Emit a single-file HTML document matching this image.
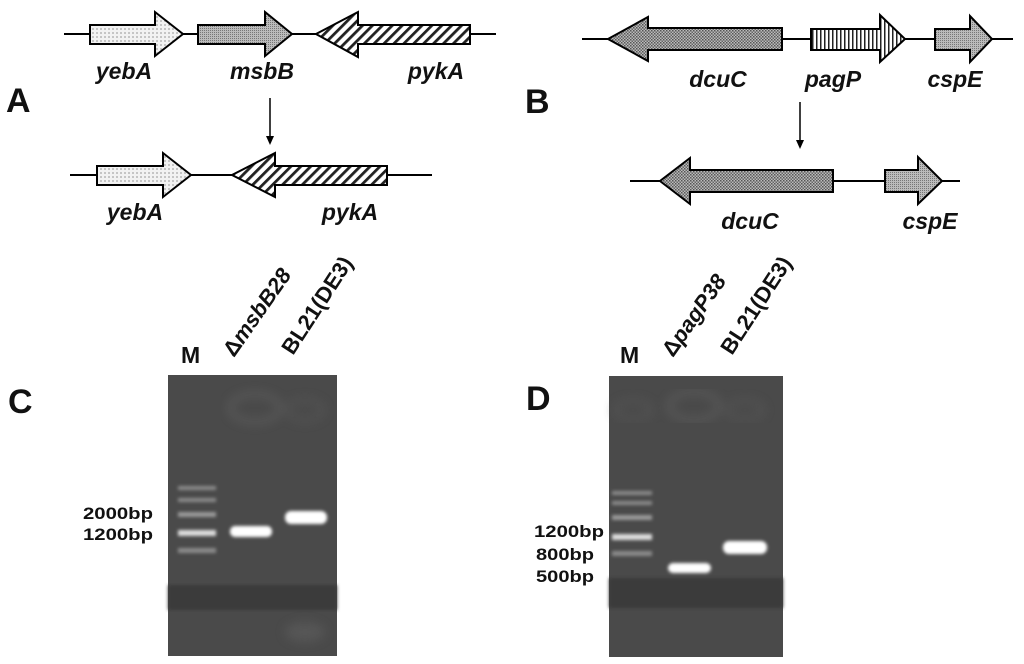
<!DOCTYPE html>
<html><head><style>
html,body{margin:0;padding:0;background:#fff;}
svg{display:block}
.g{font-family:"Liberation Sans",sans-serif;font-weight:bold;font-style:italic;font-size:23px;fill:#111;text-anchor:middle}
.L{font-family:"Liberation Sans",sans-serif;font-weight:bold;font-size:34px;fill:#111}
.t{font-family:"Liberation Sans",sans-serif;font-weight:bold;font-size:21px;fill:#111}
.bp{font-family:"Liberation Sans",sans-serif;font-weight:bold;font-size:17px;fill:#111}
</style></head><body>
<svg width="1024" height="664" viewBox="0 0 1024 664" xmlns="http://www.w3.org/2000/svg">
<defs>
<pattern id="dots" width="4" height="4" patternUnits="userSpaceOnUse"><rect width="4" height="4" fill="#f2f2f2"/><circle cx="1" cy="1" r="0.6" fill="#555"/></pattern>
<pattern id="gray" width="2" height="2" patternUnits="userSpaceOnUse"><rect width="2" height="2" fill="#bbb"/><rect width="1" height="1" fill="#777"/></pattern>
<pattern id="hatch" width="7" height="7" patternUnits="userSpaceOnUse" patternTransform="rotate(45)"><rect width="7" height="7" fill="#fff"/><rect width="2.8" height="7" fill="#222"/></pattern>
<pattern id="cross" width="3" height="3" patternUnits="userSpaceOnUse"><rect width="3" height="3" fill="#bbb"/><rect width="1.5" height="1.5" fill="#555"/><rect x="1.5" y="1.5" width="1.5" height="1.5" fill="#666"/></pattern>
<pattern id="vert" width="4" height="4" patternUnits="userSpaceOnUse"><rect width="4" height="4" fill="#fff"/><rect width="1.5" height="4" fill="#222"/></pattern>
<filter id="bl"><feGaussianBlur stdDeviation="1.5"/></filter>
<filter id="bl2"><feGaussianBlur stdDeviation="5"/></filter>
</defs>
<g stroke="#000" stroke-width="2">
<line x1="64" y1="34" x2="496" y2="34"/>
<polygon points="90,25 155,25 155,12 183,34 155,56 155,44 90,44" fill="url(#dots)"/>
<polygon points="198,25 265,25 265,12 292,34 265,56 265,44 198,44" fill="url(#gray)"/>
<polygon points="470,25 358,25 358,12 316,34 358,57 358,44 470,44" fill="url(#hatch)"/>
<line x1="70" y1="175" x2="432" y2="175"/>
<polygon points="97,166 163,166 163,153 191,175 163,197 163,185 97,185" fill="url(#dots)"/>
<polygon points="387,166 275,166 275,153 232,175 275,197 275,185 387,185" fill="url(#hatch)"/>
<line x1="582" y1="39" x2="1013" y2="39"/>
<polygon points="782,28 648,28 648,17 608,39 648,61 648,50 782,50" fill="url(#cross)"/>
<polygon points="811,29 880,29 880,15 905,39 880,62 880,50 811,50" fill="url(#vert)"/>
<polygon points="935,29 970,29 970,16 992,39 970,62 970,50 935,50" fill="url(#gray)"/>
<line x1="630" y1="181" x2="960" y2="181"/>
<polygon points="833,170 690,170 690,158 660,181 690,204 690,192 833,192" fill="url(#cross)"/>
<polygon points="885,170 918,170 918,157 942,181 918,204 918,192 885,192" fill="url(#gray)"/>
</g>
<g stroke="#000" stroke-width="1.5"><line x1="270" y1="98" x2="270" y2="138"/><line x1="800" y1="102" x2="800" y2="142"/></g>
<polygon points="266,136 274,136 270,145" fill="#000"/>
<polygon points="796,140 804,140 800,149" fill="#000"/>
<text class="g" x="124" y="79">yebA</text><text class="g" x="262" y="79">msbB</text><text class="g" x="436" y="79">pykA</text>
<text class="g" x="135" y="220">yebA</text><text class="g" x="350" y="220">pykA</text>
<text class="g" x="718" y="87">dcuC</text><text class="g" x="833" y="87">pagP</text><text class="g" x="955" y="87">cspE</text>
<text class="g" x="750" y="229">dcuC</text><text class="g" x="930" y="229">cspE</text>
<text class="L" x="6" y="112">A</text><text class="L" x="525" y="113">B</text>
<text class="L" x="8" y="413">C</text><text class="L" x="526" y="410">D</text>
<!-- Gel C -->
<rect x="168" y="375" width="169" height="281" fill="#4a4a4a"/>
<rect x="168" y="585" width="169" height="25" fill="#3a3a3a" filter="url(#bl)"/>
<g filter="url(#bl2)" opacity="0.7"><ellipse cx="255" cy="408" rx="25" ry="14" fill="none" stroke="#666" stroke-width="4"/><ellipse cx="305" cy="410" rx="18" ry="10" fill="none" stroke="#5a5a5a" stroke-width="4"/><ellipse cx="305" cy="632" rx="20" ry="10" fill="#5c5c5c"/></g>
<g filter="url(#bl)">
<rect x="178" y="486" width="38" height="4" fill="#8a8a8a"/><rect x="178" y="498" width="38" height="4" fill="#8a8a8a"/><rect x="178" y="512" width="38" height="5" fill="#999"/><rect x="178" y="530" width="38" height="6" fill="#ddd"/><rect x="178" y="548" width="38" height="5" fill="#8a8a8a"/>
<rect x="230" y="526" width="42" height="11" rx="5" fill="#fff"/>
<rect x="285" y="511" width="42" height="13" rx="6" fill="#fff"/>
</g>
<!-- Gel D -->
<rect x="609" y="376" width="174" height="281" fill="#4a4a4a"/>
<rect x="609" y="578" width="174" height="30" fill="#3a3a3a" filter="url(#bl)"/>
<g filter="url(#bl2)" opacity="0.7"><ellipse cx="694" cy="406" rx="25" ry="14" fill="none" stroke="#666" stroke-width="4"/><ellipse cx="633" cy="410" rx="18" ry="9" fill="none" stroke="#5a5a5a" stroke-width="4"/><ellipse cx="745" cy="410" rx="18" ry="9" fill="none" stroke="#5a5a5a" stroke-width="4"/></g>
<g filter="url(#bl)">
<rect x="612" y="491" width="40" height="4" fill="#8a8a8a"/><rect x="612" y="501" width="40" height="4" fill="#8a8a8a"/><rect x="612" y="515" width="40" height="5" fill="#999"/><rect x="612" y="534" width="40" height="6" fill="#ddd"/><rect x="612" y="551" width="40" height="5" fill="#8a8a8a"/>
<rect x="668" y="563" width="43" height="10" rx="5" fill="#fff"/>
<rect x="723" y="541" width="44" height="13" rx="6" fill="#fff"/>
</g>
<text class="t" x="181" y="363" style="font-size:23px">M</text>
<text class="t" x="234" y="358" transform="rotate(-55 234 358)" style="font-size:22px">Δ<tspan font-style="italic">msbB28</tspan></text>
<text class="t" x="293" y="356" transform="rotate(-57 293 356)" style="font-size:22px">BL21(DE3)</text>
<text class="t" x="620" y="363" style="font-size:23px">M</text>
<text class="t" x="673" y="358" transform="rotate(-55 673 358)" style="font-size:22px">Δ<tspan font-style="italic">pagP38</tspan></text>
<text class="t" x="732" y="356" transform="rotate(-57 732 356)" style="font-size:22px">BL21(DE3)</text>
<text class="bp" x="83" y="519" textLength="70" lengthAdjust="spacingAndGlyphs">2000bp</text><text class="bp" x="83" y="540" textLength="70" lengthAdjust="spacingAndGlyphs">1200bp</text>
<text class="bp" x="534" y="537" textLength="70" lengthAdjust="spacingAndGlyphs">1200bp</text><text class="bp" x="536" y="560" textLength="58" lengthAdjust="spacingAndGlyphs">800bp</text><text class="bp" x="536" y="582" textLength="58" lengthAdjust="spacingAndGlyphs">500bp</text>
</svg>
</body></html>
